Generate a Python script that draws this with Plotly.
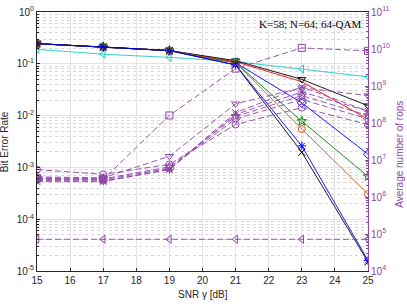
import plotly.graph_objects as go

snr = [15, 17, 19, 21, 23, 25]

# BER series (left axis)
ber_black_tri = [0.245, 0.213, 0.18, 0.115, 0.05, 0.0155]
ber_red = [0.245, 0.213, 0.18, 0.11, 0.045, 0.0085]
ber_cyan = [0.19, 0.153, 0.133, 0.11, 0.079, 0.056]
ber_blue_dia = [0.245, 0.213, 0.18, 0.105, 0.0176, 0.0018]
ber_green = [0.245, 0.213, 0.18, 0.105, 0.0078, 0.00067]
ber_orange = [0.245, 0.213, 0.18, 0.105, 0.0055, 0.000305]
ber_blue_ast = [0.245, 0.213, 0.18, 0.095, 0.0026, 1.6e-5]
ber_black_x = [0.245, 0.213, 0.18, 0.095, 0.00196, 1.5e-5]

# Complexity series (right axis)
ops_square = [3.2e6, 3.0e6, 1.6e8, 2.95e9, 1.07e10, 8.9e9]
ops_tri = [3.5e6, 3.3e6, 1.26e7, 3.3e8, 9.0e8, 5.5e8]
ops_left = [7.2e4, 7.2e4, 7.2e4, 7.2e4, 7.2e4, 7.2e4]
ops_circle = [5.5e6, 4.1e6, 7.6e6, 9.1e7, 2.6e8, 9.1e7]
ops_dia = [3.0e6, 2.9e6, 6.0e6, 1.3e8, 4.3e8, 1.3e8]
ops_star = [3.3e6, 3.1e6, 6.5e6, 1.5e8, 5.5e8, 1.6e8]
ops_ast = [2.8e6, 2.7e6, 5.5e6, 1.7e8, 6.9e8, 2.1e8]
ops_x = [2.6e6, 2.6e6, 5.6e6, 1.9e8, 9.4e8, 2.1e8]

# Tick labels
left_exps = [-5, -4, -3, -2, -1, 0]
right_exps = [4, 5, 6, 7, 8, 9, 10, 11]
left_ticktext = ["10<sup>%d</sup>" % e for e in left_exps]
right_ticktext = ["10<sup>%d</sup>" % e for e in right_exps]

purple = "#8E44A8"

fig = go.Figure()

purple_series = [
    (ops_square, "square-open"),
    (ops_tri, "triangle-down-open"),
    (ops_left, "triangle-left-open"),
    (ops_circle, "circle-open"),
    (ops_dia, "diamond-open"),
    (ops_star, "star-open"),
    (ops_ast, "asterisk-open"),
    (ops_x, "x-thin-open"),
]
for vals, sym in purple_series:
    fig.add_trace(go.Scatter(
        x=snr, y=vals, yaxis="y2", mode="lines+markers",
        line=dict(color=purple, width=0.9, dash="6px,3px"),
        marker=dict(symbol=sym, size=7, color=purple,
                    line=dict(color=purple, width=1)),
        showlegend=False))

ber_series = [
    (ber_cyan, "#20C8C8", "triangle-left-open"),
    (ber_red, "#FF0000", None),
    (ber_black_tri, "#000000", "triangle-down-open"),
    (ber_blue_dia, "#0000FF", "diamond-open"),
    (ber_green, "#008000", "star-open"),
    (ber_orange, "#D95319", "circle-open"),
    (ber_black_x, "#000000", "x-thin-open"),
    (ber_blue_ast, "#0000FF", "asterisk-open"),
]
for vals, col, sym in ber_series:
    fig.add_trace(go.Scatter(
        x=snr, y=vals, yaxis="y",
        mode="lines+markers" if sym else "lines",
        line=dict(color=col, width=0.9),
        marker=dict(symbol=sym or "circle", size=7, color=col,
                    line=dict(color=col, width=1)),
        showlegend=False))

fam = "Liberation Sans, Arial, sans-serif"
fnt = dict(family=fam, size=10, color="#262626")
pfnt = dict(family=fam, size=10, color=purple)

fig.update_layout(
    width=407, height=305,
    margin=dict(l=37, r=39, t=5, b=34),
    paper_bgcolor="white", plot_bgcolor="white",
    font=fnt,
    xaxis=dict(
        range=[15, 25], tickmode="linear", tick0=15, dtick=1,
        showgrid=True, gridcolor="#E3E3E3", gridwidth=1,
        ticks="inside", ticklen=3, tickcolor="#262626",
        showline=True, linecolor="#262626", linewidth=1, mirror=True,
        zeroline=False, tickfont=fnt,
    ),
    yaxis=dict(
        type="log", range=[-5, 0],
        tickvals=[10.0 ** e for e in left_exps], ticktext=left_ticktext,
        showgrid=True, gridcolor="#E3E3E3", gridwidth=1,
        minor=dict(dtick="D1", showgrid=True, gridcolor="#D8D8D8",
                   griddash="dot", ticks="inside", ticklen=2,
                   tickcolor="#262626"),
        ticks="inside", ticklen=3, tickcolor="#262626",
        showline=True, linecolor="#262626", linewidth=1,
        zeroline=False, tickfont=fnt,
        ticklabeloverflow="allow",
    ),
    yaxis2=dict(
        type="log", range=[4, 11],
        tickvals=[10.0 ** e for e in right_exps], ticktext=right_ticktext,
        overlaying="y", side="right", showgrid=False,
        minor=dict(dtick="D1", ticks="inside", ticklen=2, tickcolor=purple),
        ticks="inside", ticklen=3, tickcolor=purple,
        showline=True, linecolor=purple, linewidth=1,
        zeroline=False, tickfont=pfnt,
        ticklabeloverflow="allow",
    ),
    annotations=[
        dict(x=0.985, y=0.985, xref="paper", yref="paper",
             xanchor="right", yanchor="top", showarrow=False,
             text="K=58; N=64; 64-QAM",
             font=dict(family="Liberation Serif, Times New Roman, serif",
                       size=11, color="#000000")),
        dict(x=0.5, y=-0.062, xref="paper", yref="paper",
             xanchor="center", yanchor="top", showarrow=False,
             text="SNR γ [dB]", font=fnt),
        dict(x=-0.075, y=0.5, xref="paper", yref="paper",
             xanchor="right", yanchor="middle", showarrow=False,
             textangle=-90, text="Bit Error Rate", font=fnt),
        dict(x=1.072, y=0.45, xref="paper", yref="paper",
             xanchor="left", yanchor="middle", showarrow=False,
             textangle=-90, text="Average number of rops", font=pfnt),
    ],
)

fig.write_html("out.html",
               config={"displayModeBar": False},
               post_script="document.body.style.margin='0';"
                           "document.body.style.overflow='hidden';")
